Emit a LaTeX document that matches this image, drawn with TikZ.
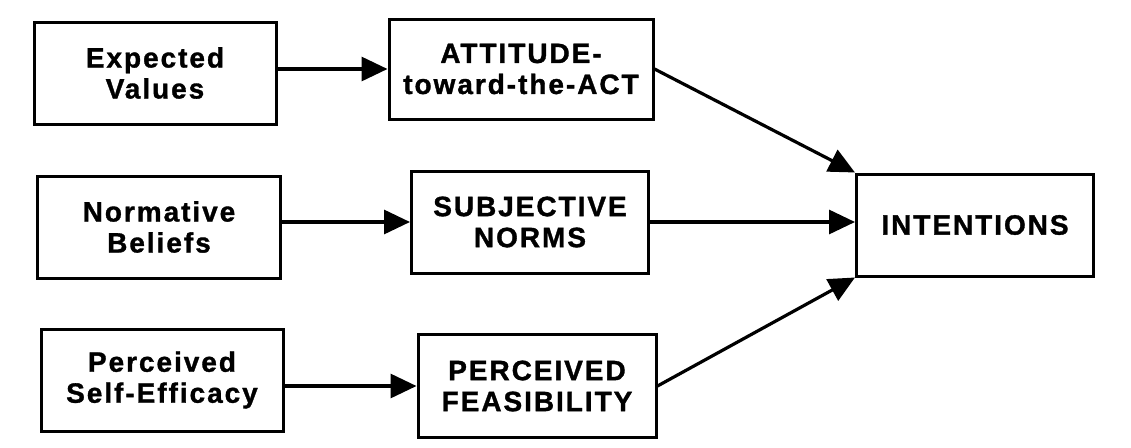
\documentclass[tikz,border=0pt]{standalone}
\usepackage{fontspec}
\setmainfont{Liberation Sans}[LetterSpace=7, BoldFeatures={FakeBold=1.2}]
\usetikzlibrary{arrows.meta,positioning}

\begin{document}
\begin{tikzpicture}[
    x=1pt, y=-1pt,
    font=\fontsize{28}{31}\selectfont\bfseries,
    field/.style={draw, line width=3pt, minimum height=102pt, align=center, inner sep=0pt},
    link/.style={-{Triangle[length=26pt, width=24pt]}, line width=3.2pt}
]
\useasboundingbox (0,0) rectangle (1131,447);

\node[field, minimum width=242pt] (expval) at (155,73) {Expected\\Values};
\node[field, minimum width=243pt] (normbel) at (159,227) {Normative\\Beliefs};
\node[field, minimum width=242pt] (selfeff) at (162,380) {Perceived\\Self-Efficacy};

\node[field, minimum width=264pt, minimum height=100pt] (attact) at (521,69) {ATTITUDE-\\toward-the-ACT};
\node[field, minimum width=237pt] (subnorm) at (530,222) {SUBJECTIVE\\NORMS};
\node[field, minimum width=238pt, minimum height=103pt] (feasib) at (537,386) {PERCEIVED\\FEASIBILITY};

\node[field, minimum width=237pt] (intent) at (975,225) {INTENTIONS};

\draw[link] (attact.west -| expval.east) -- (attact.west);
\draw[link] (subnorm.west -| normbel.east) -- (subnorm.west);
\draw[link] (feasib.west -| selfeff.east) -- (feasib.west);

\draw[link] (attact.east) -- (intent.north west);
\draw[link] (subnorm.east) -- (subnorm.east -| intent.west);
\draw[link] (feasib.east) -- (intent.south west);
\end{tikzpicture}
\end{document}
